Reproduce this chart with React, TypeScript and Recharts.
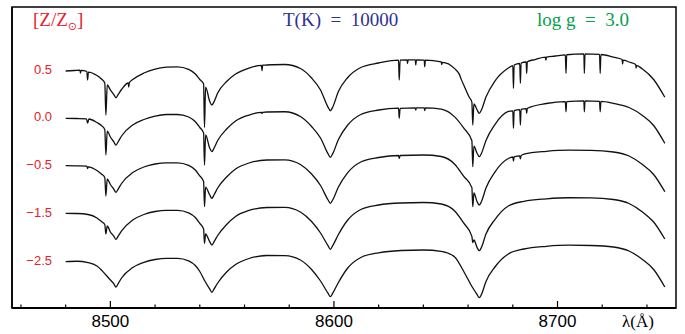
import React from 'react';
import { LineChart, Line, XAxis, YAxis, ReferenceArea } from 'recharts';

// metallicity labels, top to bottom, and the vertical shift used to stack each spectrum
const Z_LABELS = ['0.5', '0.0', '−0.5', '−1.5', '−2.5'];
const OFFSETS = [4, 3, 2, 1, 0];

const X_TICKS = [8460, 8480, 8500, 8520, 8540, 8560, 8580, 8600, 8620, 8640, 8660, 8680, 8700, 8720, 8740];
const X_MAJOR = [8500, 8600, 8700];

// [wavelength (A), relative flux]
const SPEC_P05: [number, number][] = [
  [8480, 0.960], [8484, 0.971], [8486.4, 0.977], [8486.6, 0.918], [8486.9, 0.975],
  [8489.5, 0.950], [8489.8, 0.772], [8490.2, 0.939], [8494, 0.866], [8496, 0.793],
  [8497.5, 0.709], [8498, 0.039], [8498.6, 0.667], [8500, 0.563], [8501.5, 0.470],
  [8502.5, 0.401], [8503.5, 0.470], [8505, 0.573], [8508, 0.709], [8508.2, 0.625],
  [8508.5, 0.719], [8510, 0.782], [8515, 0.918], [8520, 1.002], [8525, 1.040],
  [8530, 1.048], [8535, 0.996], [8538, 0.897], [8540, 0.782], [8541.7, 0.688],
  [8542.1, -0.218], [8542.6, 0.625], [8544.4, 0.330], [8545.4, 0.249], [8546.4, 0.320],
  [8548, 0.500], [8552, 0.740], [8556, 0.897], [8562, 1.023], [8567.6, 1.079],
  [8567.8, 0.966], [8568.1, 1.082], [8570, 1.086], [8578, 1.096], [8585, 1.013],
  [8590, 0.814], [8594, 0.563], [8597.4, 0.200], [8598.4, 0.129], [8599.4, 0.200],
  [8602, 0.531], [8606, 0.814], [8612, 1.033], [8620, 1.128], [8628.9, 1.190],
  [8629.2, 0.772], [8629.6, 1.190], [8632.7, 1.195], [8632.9, 1.117], [8633.2, 1.195],
  [8636.4, 1.195], [8636.6, 1.086], [8636.9, 1.195], [8640.4, 1.190], [8640.6, 1.050],
  [8640.9, 1.190], [8648, 1.149], [8648.2, 1.096], [8648.5, 1.142], [8654, 1.010],
  [8656, 0.900], [8657, 0.780], [8658.5, 0.620], [8660.4, 0.420], [8661.7, 0.310],
  [8662.1, -0.170], [8662.6, 0.270], [8664, 0.150], [8665, 0.075], [8666, 0.150],
  [8668, 0.416], [8672, 0.751], [8678, 1.023], [8680, 1.075], [8680.3, 0.598],
  [8680.6, 1.086], [8683.1, 1.117], [8683.4, 0.703], [8683.7, 1.128], [8686, 1.149],
  [8686.2, 0.912], [8686.5, 1.155], [8690, 1.201], [8694.6, 1.249], [8694.8, 1.190],
  [8695.1, 1.253], [8699, 1.274], [8703.5, 1.299], [8703.8, 0.912], [8704.1, 1.301],
  [8711.8, 1.320], [8712, 0.912], [8712.3, 1.320], [8718.8, 1.310], [8719.1, 0.912],
  [8719.4, 1.306], [8725, 1.253], [8728.9, 1.201], [8729.1, 1.107], [8729.4, 1.190],
  [8732, 1.149], [8735, 1.096], [8735.1, 1.023], [8735.4, 1.075], [8738, 1.002],
  [8743, 0.782], [8748, 0.410],
];

const SPEC_000: [number, number][] = [
  [8480, 0.970], [8485, 0.966], [8489.3, 0.960], [8489.8, 0.872], [8490.4, 0.956],
  [8494, 0.882], [8496, 0.820], [8497.5, 0.736], [8498, 0.202], [8498.6, 0.704],
  [8500, 0.579], [8501.5, 0.480], [8502.5, 0.411], [8503.5, 0.480], [8505, 0.600],
  [8510, 0.830], [8515, 0.945], [8520, 1.018], [8525, 1.050], [8530, 1.050],
  [8535, 0.997], [8538, 0.897], [8540, 0.778], [8541.7, 0.663], [8542.1, -0.007],
  [8542.6, 0.621], [8544.4, 0.350], [8545.4, 0.271], [8546.4, 0.350], [8548, 0.506],
  [8552, 0.746], [8556, 0.914], [8562, 1.039], [8567.6, 1.096], [8567.8, 1.071],
  [8568.1, 1.096], [8570, 1.102], [8578, 1.108], [8585, 1.008], [8590, 0.799],
  [8594, 0.558], [8597.4, 0.225], [8598.4, 0.154], [8599.4, 0.225], [8602, 0.527],
  [8606, 0.820], [8612, 1.050], [8620, 1.144], [8628.9, 1.182], [8629.2, 0.970],
  [8629.6, 1.180], [8636.4, 1.190], [8636.6, 1.144], [8636.9, 1.190], [8640.4, 1.190],
  [8640.6, 1.133], [8640.9, 1.190], [8648, 1.161], [8654, 1.000], [8658, 0.770],
  [8661.7, 0.500], [8662.1, -0.043], [8662.6, 0.390], [8664, 0.240], [8665, 0.167],
  [8666, 0.240], [8668, 0.506], [8672, 0.840], [8678, 1.113], [8680, 1.127],
  [8680.3, 0.761], [8680.6, 1.133], [8683.1, 1.154], [8683.4, 0.830], [8683.7, 1.159],
  [8686, 1.175], [8686.2, 1.075], [8686.5, 1.180], [8695, 1.280], [8703.5, 1.318],
  [8703.8, 1.108], [8704.1, 1.320], [8711.8, 1.334], [8712, 1.108], [8712.3, 1.334],
  [8718.8, 1.326], [8719.1, 1.108], [8719.4, 1.326], [8725, 1.284], [8732, 1.196],
  [8738, 1.029], [8743, 0.820], [8748, 0.447],
];

const SPEC_M05: [number, number][] = [
  [8480, 0.978], [8485, 0.974], [8489.5, 0.968], [8489.8, 0.920], [8490.2, 0.955],
  [8494, 0.878], [8496, 0.804], [8497.5, 0.731], [8498, 0.344], [8498.6, 0.700],
  [8500, 0.585], [8501.5, 0.490], [8502.5, 0.421], [8503.5, 0.490], [8505, 0.606],
  [8510, 0.836], [8515, 0.951], [8520, 1.014], [8525, 1.039], [8530, 1.039],
  [8535, 0.987], [8538, 0.888], [8540, 0.763], [8541.7, 0.648], [8542.1, 0.120],
  [8542.6, 0.532], [8544.4, 0.370], [8545.4, 0.296], [8546.4, 0.370], [8548, 0.511],
  [8552, 0.742], [8556, 0.909], [8562, 1.035], [8570, 1.098], [8578, 1.102],
  [8585, 1.003], [8590, 0.804], [8594, 0.564], [8597.4, 0.260], [8598.4, 0.191],
  [8599.4, 0.260], [8602, 0.532], [8606, 0.825], [8612, 1.056], [8620, 1.150],
  [8628.9, 1.192], [8629.2, 1.129], [8629.6, 1.192], [8640, 1.202], [8648, 1.171],
  [8654, 1.010], [8658, 0.760], [8661.7, 0.520], [8662.1, 0.120], [8662.6, 0.407],
  [8664, 0.230], [8665, 0.156], [8666, 0.230], [8668, 0.511], [8672, 0.846],
  [8678, 1.129], [8680, 1.160], [8680.3, 1.077], [8680.6, 1.165], [8683.1, 1.185],
  [8683.4, 1.120], [8683.7, 1.190], [8685, 1.223], [8695, 1.280], [8705, 1.303],
  [8715, 1.301], [8725, 1.265], [8732, 1.181], [8738, 1.003], [8743, 0.794],
  [8748, 0.434],
];

const SPEC_M15: [number, number][] = [
  [8480, 0.982], [8485, 0.978], [8490, 0.957], [8494, 0.884], [8496, 0.810],
  [8497.5, 0.748], [8498, 0.549], [8498.6, 0.716], [8500, 0.591], [8501.5, 0.505],
  [8502.5, 0.438], [8503.5, 0.505], [8505, 0.612], [8510, 0.842], [8515, 0.957],
  [8520, 1.020], [8525, 1.045], [8530, 1.045], [8535, 0.992], [8538, 0.894],
  [8540, 0.769], [8541.7, 0.653], [8542.1, 0.354], [8542.6, 0.549], [8544.4, 0.390],
  [8545.4, 0.319], [8546.4, 0.390], [8548, 0.517], [8552, 0.748], [8556, 0.915],
  [8562, 1.041], [8570, 1.103], [8578, 1.108], [8585, 1.009], [8590, 0.810],
  [8594, 0.570], [8597.4, 0.300], [8598.4, 0.229], [8599.4, 0.300], [8602, 0.538],
  [8606, 0.831], [8612, 1.061], [8620, 1.156], [8630, 1.198], [8640, 1.208],
  [8648, 1.177], [8654, 1.030], [8658, 0.780], [8661.7, 0.500], [8662.1, 0.367],
  [8662.6, 0.423], [8664, 0.270], [8665, 0.199], [8666, 0.270], [8668, 0.549],
  [8672, 0.852], [8678, 1.135], [8685, 1.233], [8695, 1.285], [8705, 1.308],
  [8715, 1.306], [8725, 1.271], [8732, 1.187], [8738, 1.009], [8743, 0.800],
  [8748, 0.444],
];

const SPEC_M25: [number, number][] = [
  [8480, 0.969], [8485, 0.979], [8490, 0.952], [8494, 0.879], [8496, 0.795],
  [8498, 0.691], [8500, 0.586], [8501.5, 0.510], [8502.5, 0.440], [8503.5, 0.510],
  [8505, 0.628], [8510, 0.848], [8515, 0.956], [8520, 1.015], [8525, 1.040],
  [8530, 1.040], [8535, 0.988], [8538, 0.889], [8540, 0.764], [8542, 0.586],
  [8544.4, 0.400], [8545.4, 0.329], [8546.4, 0.400], [8548, 0.523], [8552, 0.753],
  [8556, 0.910], [8562, 1.036], [8570, 1.099], [8578, 1.095], [8585, 1.005],
  [8590, 0.806], [8594, 0.565], [8597.4, 0.305], [8598.4, 0.236], [8599.4, 0.305],
  [8602, 0.534], [8606, 0.827], [8612, 1.057], [8620, 1.155], [8630, 1.203],
  [8640, 1.214], [8648, 1.187], [8654, 1.070], [8658, 0.770], [8662, 0.429],
  [8664, 0.285], [8665, 0.216], [8666, 0.285], [8668, 0.555], [8672, 0.858],
  [8678, 1.130], [8685, 1.235], [8695, 1.291], [8705, 1.314], [8715, 1.308],
  [8725, 1.277], [8732, 1.193], [8738, 1.015], [8743, 0.806], [8748, 0.440],
];

const SPECTRA = [SPEC_P05, SPEC_000, SPEC_M05, SPEC_M15, SPEC_M25];

const RED = '#e8202a';
const BLUE = '#2e3192';
const GREEN = '#00a14b';
const SANS = '"Liberation Sans", Arial, Helvetica, sans-serif';
const SERIF = '"Liberation Serif", "Times New Roman", serif';

const X_DOMAIN = [8456, 8753];
const Y_DOMAIN = [0, 6.3];

const XTick = ({ x, y, payload }: any) => {
  const major = X_MAJOR.includes(payload.value);
  return (
    <g>
      <line x1={x} x2={x} y1={y} y2={y - (major ? 7 : 3.5)} stroke="#000" strokeWidth={1.2} />
      {major && (
        <text x={x} y={y + 19} textAnchor="middle" fontSize={17} fontFamily={SANS} fill="#000">
          {payload.value}
        </text>
      )}
    </g>
  );
};

const ZTick = ({ x, y, payload }: any) => {
  const idx = OFFSETS.indexOf(Math.round(payload.value) - 1);
  return (
    <text x={x + 40} y={y} dy="0.35em" textAnchor="end" fontSize={13} fontFamily={SANS} fill={RED}>
      {Z_LABELS[idx]}
    </text>
  );
};

const App = () => {
  const series = SPECTRA.map((spec, i) => spec.map(([w, f]) => ({ w, v: f + OFFSETS[i] })));

  return (
    <div style={{ position: 'relative', width: 685, height: 334, background: '#fff' }}>
      <style>{'body{margin:0}'}</style>
      <LineChart width={685} height={334} margin={{ top: 7, right: 9, bottom: 0, left: 0 }}>
        <XAxis
          dataKey="w"
          type="number"
          domain={X_DOMAIN}
          ticks={X_TICKS}
          interval={0}
          tick={<XTick />}
          tickLine={false}
          tickSize={0}
          tickMargin={0}
          height={26}
          axisLine={{ stroke: '#000', strokeWidth: 2 }}
          allowDataOverflow
        />
        <YAxis
          type="number"
          domain={Y_DOMAIN}
          ticks={OFFSETS.map((o) => o + 1)}
          interval={0}
          width={12}
          tick={<ZTick />}
          tickLine={false}
          tickSize={0}
          tickMargin={0}
          axisLine={{ stroke: '#000', strokeWidth: 1.5 }}
          allowDataOverflow
        />
        {/* plot frame */}
        <ReferenceArea
          x1={X_DOMAIN[0]}
          x2={X_DOMAIN[1]}
          y1={Y_DOMAIN[0]}
          y2={Y_DOMAIN[1]}
          fill="none"
          stroke="#000"
          strokeWidth={1.5}
          ifOverflow="visible"
        />
        {series.map((data, i) => (
          <Line
            key={Z_LABELS[i]}
            data={data}
            dataKey="v"
            type="monotone"
            stroke="#111"
            strokeWidth={1.3}
            dot={false}
            activeDot={false}
            isAnimationActive={false}
          />
        ))}
      </LineChart>

      <div style={{ position: 'absolute', left: 33, top: 9, color: RED, fontFamily: SERIF, fontSize: 19, lineHeight: '22px' }}>
        [Z/Z<sub style={{ fontSize: 11, verticalAlign: '-4px', fontFamily: '"DejaVu Sans", sans-serif' }}>⊙</sub>]
      </div>
      <div style={{ position: 'absolute', left: 283, top: 9, color: BLUE, fontFamily: SERIF, fontSize: 19, lineHeight: '22px', whiteSpace: 'pre' }}>
        {'T(K)  =  10000'}
      </div>
      <div style={{ position: 'absolute', left: 537, top: 9, color: GREEN, fontFamily: SERIF, fontSize: 19, lineHeight: '22px', whiteSpace: 'pre' }}>
        {'log g  =  3.0'}
      </div>
      <div style={{ position: 'absolute', left: 622, top: 312, color: '#000', fontFamily: SERIF, fontSize: 17, lineHeight: '20px' }}>
        λ(Å)
      </div>
    </div>
  );
};

export default App;
